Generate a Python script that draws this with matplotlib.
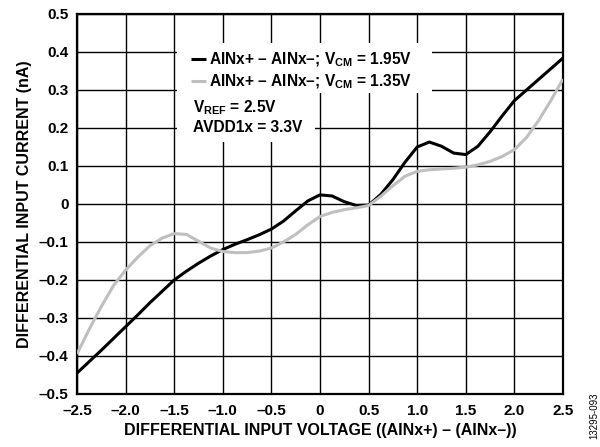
import numpy as np
import matplotlib
matplotlib.use('Agg')
import matplotlib.pyplot as plt
from matplotlib.patches import Rectangle

plt.rcParams['font.family'] = 'Liberation Sans'
plt.rcParams['font.weight'] = 'bold'
plt.rcParams['mathtext.fontset'] = 'custom'
plt.rcParams['mathtext.rm'] = 'Liberation Sans:bold'
plt.rcParams['mathtext.bf'] = 'Liberation Sans:bold'
plt.rcParams['mathtext.default'] = 'bf'

# differential input voltage (V)
vdiff = [-2.5, -2.375, -2.25, -2.125, -2.0, -1.875, -1.75, -1.625, -1.5, -1.375,
         -1.25, -1.125, -1.0, -0.875, -0.75, -0.625, -0.5, -0.375, -0.25, -0.125,
         0.0, 0.125, 0.25, 0.375, 0.5, 0.625, 0.75, 0.875, 1.0, 1.125,
         1.25, 1.375, 1.5, 1.625, 1.75, 1.875, 2.0, 2.125, 2.25, 2.375, 2.5]
# VCM = 1.95V
i_195 = [-0.445, -0.415, -0.385, -0.354, -0.323, -0.292, -0.260, -0.230, -0.200, -0.177,
         -0.156, -0.137, -0.120, -0.106, -0.094, -0.081, -0.066, -0.045, -0.018, 0.008,
         0.024, 0.021, 0.006, -0.004, -0.003, 0.025, 0.064, 0.110, 0.150, 0.163,
         0.152, 0.134, 0.130, 0.152, 0.190, 0.232, 0.272, 0.300, 0.328, 0.356, 0.384]
# VCM = 1.35V
i_135 = [-0.395, -0.330, -0.270, -0.215, -0.174, -0.140, -0.110, -0.090, -0.078, -0.080,
         -0.098, -0.116, -0.125, -0.128, -0.128, -0.124, -0.116, -0.100, -0.080, -0.055,
         -0.033, -0.022, -0.015, -0.010, -0.004, 0.020, 0.048, 0.073, 0.086, 0.090,
         0.092, 0.094, 0.097, 0.103, 0.112, 0.125, 0.143, 0.175, 0.220, 0.272, 0.329]

xticks = [-2.5, -2.0, -1.5, -1.0, -0.5, 0, 0.5, 1.0, 1.5, 2.0, 2.5]
xticklabels = ['–2.5', '–2.0', '–1.5', '–1.0', '–0.5', '0', '0.5', '1.0', '1.5', '2.0', '2.5']
yticks = [-0.5, -0.4, -0.3, -0.2, -0.1, 0, 0.1, 0.2, 0.3, 0.4, 0.5]
yticklabels = ['–0.5', '–0.4', '–0.3', '–0.2', '–0.1', '0', '0.1', '0.2', '0.3', '0.4', '0.5']

fig = plt.figure(figsize=(6, 4.47), dpi=100)
axe = fig.add_axes([0.1283, 0.1186, 0.81, 0.8501])

axe.plot(vdiff, i_195, color='black', lw=2.2, zorder=3, solid_joinstyle='round',
         solid_capstyle='butt', label='AINx+ – AINx–; V$_{CM}$ = 1.95V')
axe.plot(vdiff, i_135, color='#bfbfbf', lw=2.2, zorder=3, solid_joinstyle='round',
         solid_capstyle='butt', label='AINx+ – AINx–; V$_{CM}$ = 1.35V')

axe.set_xlim([-2.5, 2.5])
axe.set_ylim([-0.5, 0.5])
axe.set_xticks(xticks)
axe.set_xticklabels(xticklabels, fontweight='bold', fontsize=11)
axe.set_yticks(yticks)
axe.set_yticklabels(yticklabels, fontweight='bold', fontsize=11)
axe.tick_params(axis='x', length=0, pad=7)
axe.tick_params(axis='y', length=0, pad=6)
axe.grid(True, color='black', lw=1.0)
axe.set_axisbelow(True)
for s in axe.spines.values():
    s.set_linewidth(1.6)

axe.set_xlabel('DIFFERENTIAL INPUT VOLTAGE ((AINx+) – (AINx–))', fontsize=11.5,
               fontweight='bold', labelpad=4)
axe.set_ylabel('DIFFERENTIAL INPUT CURRENT (nA)', fontsize=11.5,
               fontweight='bold', labelpad=5)

# white backgrounds behind the key and the conditions text
axe.add_patch(Rectangle((0.2058, 0.7921), 0.5247, 0.1316, transform=axe.transAxes,
                        facecolor='white', edgecolor='none', zorder=2))
axe.add_patch(Rectangle((0.2058, 0.6632), 0.2840, 0.1300, transform=axe.transAxes,
                        facecolor='white', edgecolor='none', zorder=2))

leg = axe.legend(loc='upper left', bbox_to_anchor=(0.2346, 0.903),
                 prop={'size': 11.2, 'weight': 'bold'}, frameon=False,
                 handlelength=0.95, handletextpad=0.2, borderpad=0,
                 labelspacing=0.24, borderaxespad=0)
leg.set_zorder(4)

axe.text(0.2387, 0.742, 'V$_{REF}$ = 2.5V', transform=axe.transAxes,
         fontsize=11.2, fontweight='bold', va='baseline', ha='left', zorder=4)
axe.text(0.2387, 0.690, 'AVDD1x = 3.3V', transform=axe.transAxes,
         fontsize=11.2, fontweight='bold', va='baseline', ha='left', zorder=4)

fig.text(0.99, 0.121, '13295-093', rotation=90, fontsize=7, fontweight='normal',
         ha='center', va='top')

fig.savefig('out.png', dpi=100)
